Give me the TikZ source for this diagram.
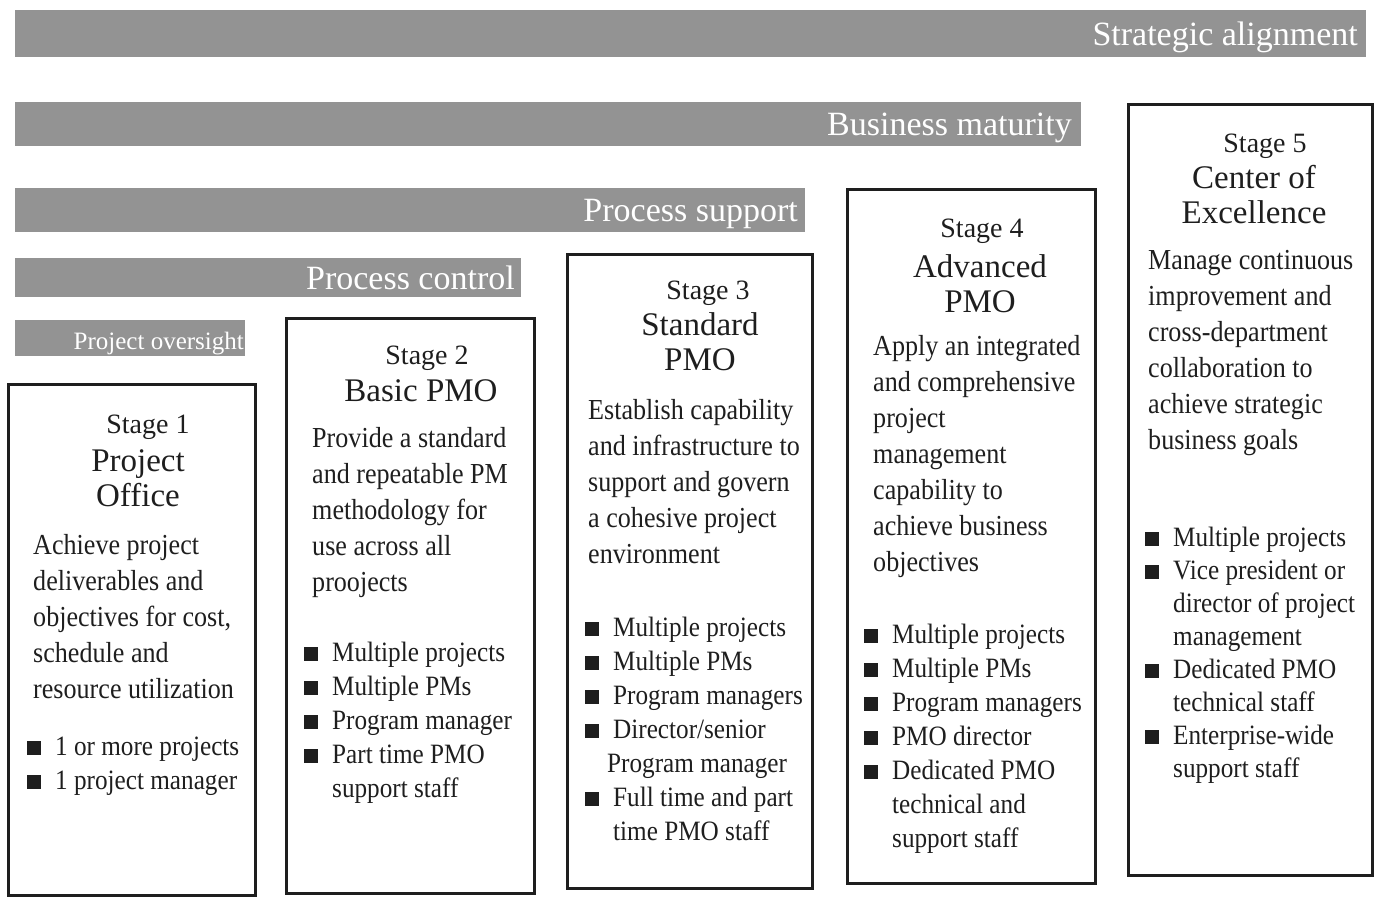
\documentclass[tikz,border=0pt]{standalone}
\usepackage{fontspec}
\setmainfont{Liberation Serif}
\newfontfamily\bodyfont[FakeStretch=0.9]{Liberation Serif}
\usetikzlibrary{positioning}

\definecolor{bargray}{RGB}{147,147,147}
\definecolor{inkdark}{RGB}{30,30,30}

\newcommand{\sqb}{\makebox[28pt][l]{\rule{14pt}{14pt}}}
\newcommand{\sqgap}{\hspace*{28pt}}

\tikzset{
  barlabel/.style={anchor=base east, text=white, inner sep=0pt,
    font=\fontsize{34}{40}\selectfont},
  stagebox/.style={draw=inkdark, line width=3pt},
  stagenum/.style={anchor=base, inner sep=0pt, text=inkdark,
    font=\fontsize{28}{34}\selectfont},
  stagename/.style={anchor=base, inner sep=0pt, align=center, text=inkdark,
    font=\fontsize{33}{35}\selectfont},
  bodytext/.style={anchor=base west, inner sep=0pt, align=left, text=inkdark,
    font=\bodyfont\fontsize{29}{36}\selectfont},
  listtext/.style={anchor=base west, inner sep=0pt, align=left, text=inkdark,
    font=\bodyfont\fontsize{28}{34}\selectfont},
}

\begin{document}
\begin{tikzpicture}[x=1pt, y=-1pt]
\useasboundingbox (0,0) rectangle (1375,897);

%the maturity bars
\fill[bargray] (15,10) rectangle (1366,57);
\node[barlabel] (strat) at (1358,45) {Strategic alignment};
\fill[bargray] (15,102) rectangle (1081,146);
\node[barlabel] (busmat) at (1072,135) {Business maturity};
\fill[bargray] (15,188) rectangle (805,232);
\node[barlabel] (procsup) at (798,221) {Process support};
\fill[bargray] (15,258) rectangle (521,297);
\node[barlabel] (procctl) at (515,289) {Process control};
\fill[bargray] (15,320) rectangle (245,356);
\node[barlabel, font=\fontsize{25}{30}\selectfont] (projovs) at (244,349) {Project oversight};

%stage 1 (multi-line nodes sit on their last baseline)
\draw[stagebox] (8,384) rectangle (255,895);
\node[stagenum] (s1num) at (148,433) {Stage 1};
\node[stagename] (s1name) at (138,506) {Project\\Office};
\node[bodytext] (s1body) at (33,698) {Achieve project\\deliverables and\\objectives for cost,\\schedule and\\resource utilization};
\node[listtext] (s1list) at (27,789) {\sqb 1 or more projects\\\sqb 1 project manager};

%stage 2
\draw[stagebox] (286,318) rectangle (534,893);
\node[stagenum] (s2num) at (427,364) {Stage 2};
\node[stagename] (s2name) at (421,401) {Basic PMO};
\node[bodytext] (s2body) at (312,591) {Provide a standard\\and repeatable PM\\methodology for\\use across all\\proojects};
\node[listtext] (s2list) at (304,797) {\sqb Multiple projects\\\sqb Multiple PMs\\\sqb Program manager\\\sqb Part time PMO\\\sqgap support staff};

%stage 3
\draw[stagebox] (567,254) rectangle (812,888);
\node[stagenum] (s3num) at (708,299) {Stage 3};
\node[stagename] (s3name) at (700,370) {Standard\\PMO};
\node[bodytext] (s3body) at (588,563) {Establish capability\\and infrastructure to\\support and govern\\a cohesive project\\environment};
\node[listtext] (s3list) at (585,840) {\sqb Multiple projects\\\sqb Multiple PMs\\\sqb Program managers\\\sqb Director/senior\\\hspace*{22pt}Program manager\\\sqb Full time and part\\\sqgap time PMO staff};

%stage 4
\draw[stagebox] (847,189) rectangle (1095,883);
\node[stagenum] (s4num) at (982,237) {Stage 4};
\node[stagename] (s4name) at (980,312) {Advanced\\PMO};
\node[bodytext] (s4body) at (873,571) {Apply an integrated\\and comprehensive\\project\\management\\capability to\\achieve business\\objectives};
\node[listtext] (s4list) at (864,847) {\sqb Multiple projects\\\sqb Multiple PMs\\\sqb Program managers\\\sqb PMO director\\\sqb Dedicated PMO\\\sqgap technical and\\\sqgap support staff};

%stage 5
\draw[stagebox] (1128,104) rectangle (1372,875);
\node[stagenum] (s5num) at (1265,152) {Stage 5};
\node[stagename] (s5name) at (1254,223) {Center of\\Excellence};
\node[bodytext] (s5body) at (1148,449) {Manage continuous\\improvement and\\cross-department\\collaboration to\\achieve strategic\\business goals};
\node[listtext, font=\bodyfont\fontsize{28}{33}\selectfont] (s5list) at (1145,777) {\sqb Multiple projects\\\sqb Vice president or\\\sqgap director of project\\\sqgap management\\\sqb Dedicated PMO\\\sqgap technical staff\\\sqb Enterprise-wide\\\sqgap support staff};

\end{tikzpicture}
\end{document}
